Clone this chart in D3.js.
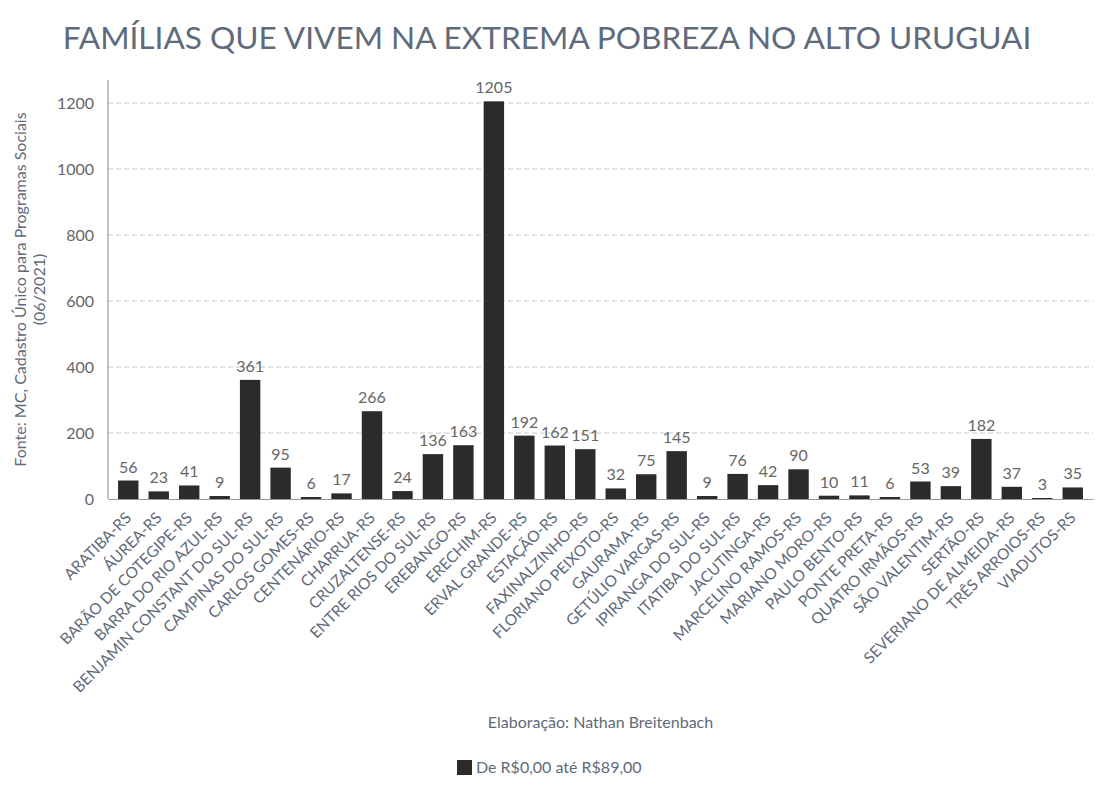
<!DOCTYPE html>
<html>
<head>
<meta charset="utf-8">
<script src="https://cdn.jsdelivr.net/npm/d3@7"></script>
<style>
  body { margin: 0; background: #fff; }
  svg, svg text { font-family: Lato, "Open Sans", sans-serif; }
</style>
</head>
<body>
<script>
var municipios = ["ARATIBA-RS", "ÁUREA-RS", "BARÃO DE COTEGIPE-RS", "BARRA DO RIO AZUL-RS",
  "BENJAMIN CONSTANT DO SUL-RS", "CAMPINAS DO SUL-RS", "CARLOS GOMES-RS", "CENTENÁRIO-RS",
  "CHARRUA-RS", "CRUZALTENSE-RS", "ENTRE RIOS DO SUL-RS", "EREBANGO-RS", "ERECHIM-RS",
  "ERVAL GRANDE-RS", "ESTAÇÃO-RS", "FAXINALZINHO-RS", "FLORIANO PEIXOTO-RS", "GAURAMA-RS",
  "GETÚLIO VARGAS-RS", "IPIRANGA DO SUL-RS", "ITATIBA DO SUL-RS", "JACUTINGA-RS",
  "MARCELINO RAMOS-RS", "MARIANO MORO-RS", "PAULO BENTO-RS", "PONTE PRETA-RS",
  "QUATRO IRMÃOS-RS", "SÃO VALENTIM-RS", "SERTÃO-RS", "SEVERIANO DE ALMEIDA-RS",
  "TRÊS ARROIOS-RS", "VIADUTOS-RS"];
var familias = [56, 23, 41, 9, 361, 95, 6, 17, 266, 24, 136, 163, 1205, 192, 162, 151,
  32, 75, 145, 9, 76, 42, 90, 10, 11, 6, 53, 39, 182, 37, 3, 35];
var yTicks = [0, 200, 400, 600, 800, 1000, 1200];
var serie = "De R$0,00 até R$89,00";

var W = 1108, H = 789;
var mLeft = 108, mRight = 1093, mTop = 80, mBottom = 499;
var textColor = "#5f6b7a", barColor = "#2d2b2a";

var svg = d3.select("body").append("svg")
  .attr("width", W).attr("height", H);

var x = d3.scaleBand().domain(municipios).range([mLeft, mRight]).padding(0.33);
var y = d3.scaleLinear().domain([0, 1200]).range([mBottom, 103]);

// title
svg.append("text")
  .attr("x", 547).attr("y", 49)
  .attr("text-anchor", "middle")
  .attr("fill", textColor)
  .style("font-size", "31.6px")
  .text("FAMÍLIAS QUE VIVEM NA EXTREMA POBREZA NO ALTO URUGUAI");

// gridlines
svg.append("g").selectAll("line")
  .data(yTicks.slice(1))
  .enter().append("line")
  .attr("x1", mLeft).attr("x2", mRight)
  .attr("y1", function(d) { return y(d); })
  .attr("y2", function(d) { return y(d); })
  .attr("stroke", "#c8c8c8")
  .attr("stroke-dasharray", "5,3");

// y axis
var yAxis = svg.append("g")
  .attr("transform", "translate(" + mLeft + ",0)")
  .call(d3.axisLeft(y).tickValues(yTicks).tickFormat(d3.format("d")).tickSize(0).tickPadding(14));
yAxis.attr("font-family", null);
yAxis.select(".domain").remove();
yAxis.selectAll("text").attr("fill", "#666").style("font-size", "16px");
svg.append("line")
  .attr("x1", mLeft).attr("x2", mLeft).attr("y1", mTop).attr("y2", mBottom)
  .attr("stroke", "#888");

// y axis label
var yl = svg.append("text")
  .attr("transform", "translate(26," + ((mTop + mBottom) / 2) + ") rotate(-90)")
  .attr("text-anchor", "middle")
  .attr("fill", textColor)
  .style("font-size", "16px");
yl.append("tspan").attr("x", 0).attr("dy", 0).text("Fonte: MC, Cadastro Único para Programas Sociais");
yl.append("tspan").attr("x", 0).attr("dy", 19).text("(06/2021)");

// bars
svg.append("g").selectAll("rect")
  .data(familias)
  .enter().append("rect")
  .attr("x", function(d, i) { return x(municipios[i]); })
  .attr("width", x.bandwidth())
  .attr("y", function(d) { return y(d); })
  .attr("height", function(d) { return mBottom - y(d); })
  .attr("fill", barColor);

// value labels
svg.append("g").selectAll("text")
  .data(familias)
  .enter().append("text")
  .attr("x", function(d, i) { return x(municipios[i]) + x.bandwidth() / 2; })
  .attr("y", function(d) { return y(d) - 8; })
  .attr("text-anchor", "middle")
  .attr("fill", "#666")
  .style("font-size", "16px")
  .text(function(d) { return d; });

// x axis
var xAxis = svg.append("g")
  .attr("transform", "translate(0," + mBottom + ")")
  .call(d3.axisBottom(x).tickSize(0).tickPadding(6));
xAxis.attr("font-family", null);
xAxis.select(".domain").attr("stroke", "#999");
xAxis.selectAll("text")
  .attr("fill", textColor)
  .style("font-size", "15.5px")
  .attr("text-anchor", "end")
  .attr("transform", "translate(-8,8) rotate(-45)")
  .attr("dy", "0.7em");

// credit
svg.append("text")
  .attr("x", (mLeft + mRight) / 2).attr("y", 728)
  .attr("text-anchor", "middle")
  .attr("fill", textColor)
  .style("font-size", "16px")
  .text("Elaboração: Nathan Breitenbach");

// legend
var lg = svg.append("g").attr("transform", "translate(457,760)");
lg.append("rect").attr("width", 15).attr("height", 15).attr("fill", barColor);
lg.append("text").attr("x", 19).attr("y", 13)
  .attr("fill", textColor)
  .style("font-size", "16px")
  .text(serie);
</script>
</body>
</html>
